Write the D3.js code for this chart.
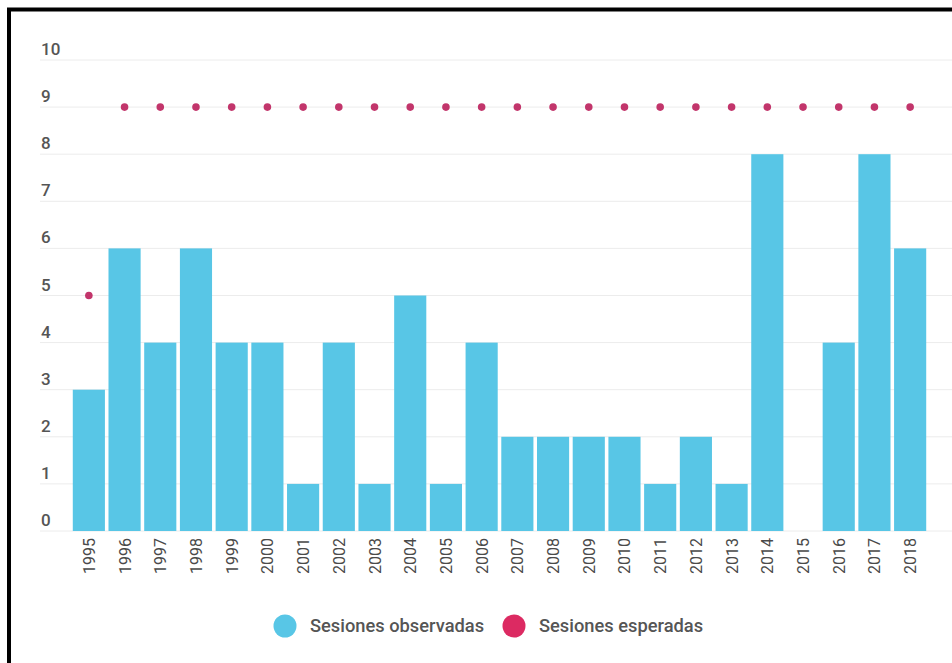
<!DOCTYPE html>
<html>
<head>
<meta charset="utf-8">
<script src="https://cdn.jsdelivr.net/npm/d3@7"></script>
<style>
  html, body { margin: 0; padding: 0; background: #fff; }
  svg { display: block; font-family: Roboto, "Noto Sans", sans-serif; }
</style>
</head>
<body>
<svg id="chart" width="952" height="663"></svg>
<script>
// Sessions per year: observed vs expected
const years = ["1995","1996","1997","1998","1999","2000","2001","2002","2003","2004","2005","2006",
               "2007","2008","2009","2010","2011","2012","2013","2014","2015","2016","2017","2018"];
const observed = [3,6,4,6,4,4,1,4,1,5,1,4,2,2,2,2,1,2,1,8,0,4,8,6];
const expected = [5,9,9,9,9,9,9,9,9,9,9,9,9,9,9,9,9,9,9,9,9,9,9,9];
const yTicks = [0,1,2,3,4,5,6,7,8,9,10];
const seriesNames = ["Sesiones observadas", "Sesiones esperadas"];

const barColor = "#58c6e6";
const dotColor = "#c2356b";
const legendDotColor = "#dc2a62";

const svg = d3.select("#chart");

// outer frame (left and top edges visible)
svg.append("path")
  .attr("d", "M9,663 L9,9.5 L952,9.5")
  .attr("fill", "none")
  .attr("stroke", "#000")
  .attr("stroke-width", 4);

const x = d3.scaleBand().domain(years).range([71, 928]).paddingInner(0.1).paddingOuter(0.05);
const y = d3.scaleLinear().domain([0, 10]).range([531, 60]);

// gridlines + tick labels
const grid = svg.append("g");
grid.selectAll("line").data(yTicks).join("line")
  .attr("x1", 40).attr("x2", 952)
  .attr("y1", d => y(d)).attr("y2", d => y(d))
  .attr("stroke", "#ececec").attr("stroke-width", 1);
grid.selectAll("text").data(yTicks).join("text")
  .attr("x", 41).attr("y", d => y(d) - 5)
  .attr("font-size", 17).attr("font-weight", 500).attr("fill", "#555")
  .text(d => d);

// observed bars
svg.append("g").selectAll("rect").data(years).join("rect")
  .attr("x", d => x(d))
  .attr("width", x.bandwidth())
  .attr("y", (d, i) => y(observed[i]))
  .attr("height", (d, i) => y(0) - y(observed[i]))
  .attr("fill", barColor);

// expected dots
svg.append("g").selectAll("circle").data(years).join("circle")
  .attr("cx", d => x(d) + x.bandwidth() / 2)
  .attr("cy", (d, i) => y(expected[i]))
  .attr("r", 3.8)
  .attr("fill", dotColor);

// x axis labels (rotated), clipped at the bottom of the axis area
svg.append("clipPath").attr("id", "xlab-clip")
  .append("rect").attr("x", 0).attr("y", 533).attr("width", 952).attr("height", 44);
svg.append("g").attr("clip-path", "url(#xlab-clip)")
  .selectAll("text").data(years).join("text")
  .attr("transform", d => `translate(${x(d) + x.bandwidth() / 2 + 6},538) rotate(-90)`)
  .attr("text-anchor", "end")
  .attr("font-size", 16).attr("fill", "#4a4a4a")
  .text(d => d);

// legend
const legend = svg.append("g");
const legendItems = [
  { name: seriesNames[0], color: barColor, cx: 285, tx: 310 },
  { name: seriesNames[1], color: legendDotColor, cx: 514, tx: 539 }
];
legend.selectAll("circle").data(legendItems).join("circle")
  .attr("cx", d => d.cx).attr("cy", 626).attr("r", 11.5)
  .attr("fill", d => d.color);
legend.selectAll("text").data(legendItems).join("text")
  .attr("x", d => d.tx).attr("y", 632)
  .attr("font-size", 18.3).attr("font-weight", 500).attr("fill", "#555")
  .text(d => d.name);
</script>
</body>
</html>
